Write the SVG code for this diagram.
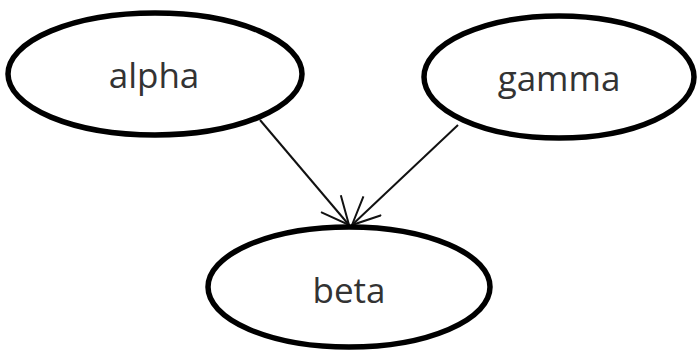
<svg xmlns="http://www.w3.org/2000/svg" width="699" height="352" viewBox="0 0 699 352">
  <defs>
    <marker id="vee" viewBox="0 0 30 28" refX="29" refY="14" markerWidth="30" markerHeight="28" markerUnits="userSpaceOnUse" orient="auto">
      <path d="M1,1 L29,14 L1,27" fill="none" stroke="#111" stroke-width="2"/>
    </marker>
  </defs>
  <style>
    .node ellipse { fill: #fff; stroke: #000; stroke-width: 5.5; }
    .node text { font-family: "Open Sans", "Noto Sans", sans-serif; font-size: 35px; fill: #333; text-anchor: middle; }
    .edge { stroke: #111; stroke-width: 2; fill: none; marker-end: url(#vee); }
  </style>
  <rect width="699" height="352" fill="#fff"/>
  <g id="connectors">
    <line class="edge" x1="260" y1="120" x2="349" y2="225"/>
    <line class="edge" x1="458" y1="125" x2="352" y2="225"/>
  </g>
  <g id="alpha" class="node">
    <ellipse cx="155" cy="74" rx="147" ry="61"/>
    <text x="154" y="88">alpha</text>
  </g>
  <g id="gamma" class="node">
    <ellipse cx="559" cy="77" rx="135" ry="61"/>
    <text x="559" y="91">gamma</text>
  </g>
  <g id="beta" class="node">
    <ellipse cx="349" cy="287" rx="141" ry="60"/>
    <text x="349" y="303">beta</text>
  </g>
</svg>
